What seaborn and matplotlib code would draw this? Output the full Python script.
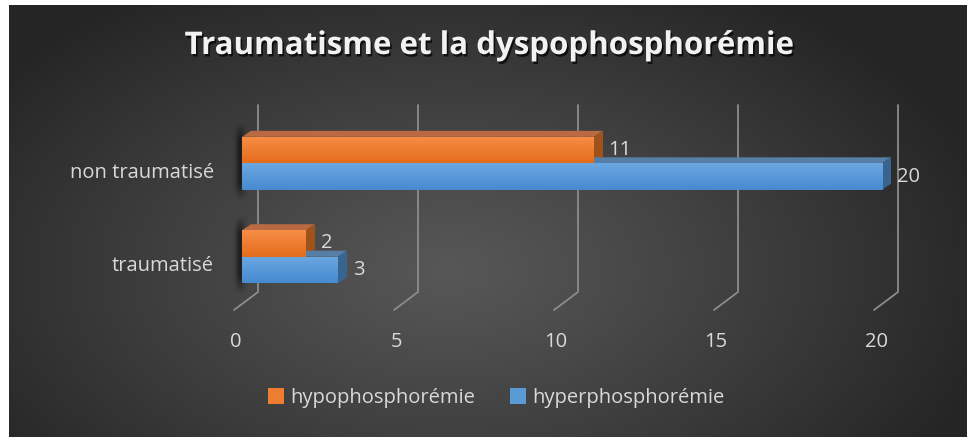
import numpy as np
import pandas as pd
import matplotlib
matplotlib.use("Agg")
import matplotlib.pyplot as plt
import matplotlib.patheffects as pe
import matplotlib.transforms as mtransforms
from matplotlib.patches import Polygon, Patch
import seaborn as sns

# ---- data ----
categories = ["non traumatisé", "traumatisé"]
series_names = ["hypophosphorémie", "hyperphosphorémie"]
hypo_values = [11, 2]
hyper_values = [20, 3]
x_ticks = [0, 5, 10, 15, 20]
title = "Traumatisme et la dyspophosphorémie"

df = pd.DataFrame({
    "cat": categories * 2,
    "serie": [series_names[0]] * len(categories) + [series_names[1]] * len(categories),
    "val": hypo_values + hyper_values,
})

# ---- style ----
W, H, DPI = 968, 437, 100
ORANGE, BLUE = "#ef7d2f", "#5b9bd5"
FACE_GRAD = {ORANGE: ("#f78d47", "#e56d1b"), BLUE: ("#6ba8e2", "#478ad0")}
TOP_COL = {ORANGE: "#b96a42", BLUE: "#567ea6"}
SIDE_COL = {ORANGE: "#a0521b", BLUE: "#38658f"}
TEXT_COL = "#d9d9d9"
GRID_COL = "#8c8c8c"
FS = 14.5

sns.set_theme(style="white")
plt.rcParams["font.family"] = ["Open Sans", "DejaVu Sans"]

fig = plt.figure(figsize=(W / DPI, H / DPI), dpi=DPI, facecolor="white")

# ---- dark radial-gradient chart area ----
bg = fig.add_axes([0, 0, 1, 1], zorder=0)
bg.set_xlim(0, W)
bg.set_ylim(H, 0)
bg.axis("off")
x0b, x1b, y0b, y1b = 9, 967, 5, 437
yy, xx = np.mgrid[y0b:y1b, x0b:x1b]
r = np.sqrt(((xx - 450) / 560.0) ** 2 + ((yy - 270) / 330.0) ** 2)
t = np.clip(r, 0, 1) ** 1.1
lum = (0x57 * (1 - t) + 0x25 * t) / 255.0
bg.imshow(np.dstack([lum, lum, lum]), extent=(x0b, x1b, y1b, y0b),
          interpolation="bilinear", aspect="auto")

# ---- main axes: pixel geometry of the plot area ----
PX_ZERO = 242.0      # front face of the value 0
PX_PER_UNIT = 32.0
PX_CAT0 = 163.3      # centre of the first category
PX_PITCH = 93.4      # distance between categories
ax_left_px, ax_right_px = 222, 950
ax_top_px, ax_bot_px = 90, 330
ax = fig.add_axes([ax_left_px / W, 1 - ax_bot_px / H,
                   (ax_right_px - ax_left_px) / W, (ax_bot_px - ax_top_px) / H], zorder=1)
ax.set_facecolor("none")

sns.barplot(data=df, x="val", y="cat", hue="serie", orient="h",
            order=categories, hue_order=series_names,
            palette=[ORANGE, BLUE], saturation=1, width=0.567,
            linewidth=0, legend=False, ax=ax, zorder=3)

ax.set_xlim((ax_left_px - PX_ZERO) / PX_PER_UNIT, (ax_right_px - PX_ZERO) / PX_PER_UNIT)
ax.set_ylim((ax_bot_px - PX_CAT0) / PX_PITCH, (ax_top_px - PX_CAT0) / PX_PITCH)
ux = 1.0 / PX_PER_UNIT   # data units per pixel (x)
uy = 1.0 / PX_PITCH      # data units per pixel (y, downward)

for s in ax.spines.values():
    s.set_visible(False)
ax.set_xlabel("")
ax.set_ylabel("")

# ---- back-wall gridlines with floor perspective ----
wall_dx = 16 * ux
grid_top = (105 - PX_CAT0) * uy
grid_bot = (292 - PX_CAT0) * uy
for v in x_ticks:
    gx = v + wall_dx
    ax.plot([gx, gx, gx - 24 * ux], [grid_top, grid_bot, grid_bot + 18 * uy],
            color=GRID_COL, lw=1.3, zorder=1, solid_joinstyle="miter")

# ---- soft shadow behind bar bases ----
sh_w = 30
prof_x = np.exp(-((np.arange(sh_w) - 17) / 4.5) ** 2)
for i in range(len(categories)):
    top = i - 0.567 / 2 - 15 * uy
    bot = i + 0.567 / 2 + 11 * uy
    n = 80
    fy = np.linspace(0, 1, n)
    prof_y = np.clip(np.minimum(fy, 1 - fy) / 0.22, 0, 1)
    alpha = 0.55 * np.outer(prof_y, prof_x)
    rgba = np.zeros((n, sh_w, 4))
    rgba[..., 3] = alpha
    ax.imshow(rgba, extent=(-19 * ux, (sh_w - 19) * ux, bot, top),
              aspect="auto", zorder=1.5, interpolation="bilinear")

# ---- 3D faces and gradient fronts for each bar ----
dx, dy = 9 * ux, 6 * uy
for cont, key in zip(ax.containers, [ORANGE, BLUE]):
    for bar in cont.patches:
        bx0, bw = bar.get_x(), bar.get_width()
        btop, bh = bar.get_y(), bar.get_height()
        bx1, bbot = bx0 + bw, btop + bh
        ax.add_patch(Polygon([(bx0, btop), (bx1, btop), (bx1 + dx, btop - dy), (bx0 + dx, btop - dy)],
                             closed=True, fc=TOP_COL[key], ec="none", zorder=2))
        ax.add_patch(Polygon([(bx1, btop), (bx1 + dx, btop - dy), (bx1 + dx, bbot - dy), (bx1, bbot)],
                             closed=True, fc=SIDE_COL[key], ec="none", zorder=2))
        c_top, c_bot = (np.array(matplotlib.colors.to_rgb(c)) for c in FACE_GRAD[key])
        g = np.linspace(0, 1, 32)[:, None, None]
        grad = c_top * (1 - g) + c_bot * g
        im = ax.imshow(np.repeat(grad, 2, axis=1), extent=(bx0, bx1, bbot, btop),
                       aspect="auto", zorder=3.5, interpolation="bilinear")
        im.set_clip_path(bar)

# ---- value labels ----
for cont in ax.containers:
    ax.bar_label(cont, labels=[f"{int(b.get_width())}" for b in cont.patches],
                 padding=10.5, color=TEXT_COL, fontsize=FS, zorder=5)

# ---- tick labels ----
ax.set_xticks(x_ticks)
ax.set_xticklabels([str(v) for v in x_ticks])
ax.set_yticks(range(len(categories)))
ax.set_yticklabels(categories)
ax.tick_params(axis="x", length=0, pad=1.5, labelsize=FS, labelcolor=TEXT_COL)
ax.tick_params(axis="y", length=0, pad=6, labelsize=FS, labelcolor=TEXT_COL)
for lab in ax.get_xticklabels():
    lab.set_transform(lab.get_transform() + mtransforms.ScaledTranslation(-0.06, 0, fig.dpi_scale_trans))
for lab in ax.get_yticklabels():
    lab.set_transform(lab.get_transform() + mtransforms.ScaledTranslation(0, -0.07, fig.dpi_scale_trans))
ax.grid(False)

# ---- title ----
fig.text(490 / W, 1 - 46 / H, title, ha="center", va="center",
         fontsize=22.5, fontweight="bold", color="#f2f2f2",
         path_effects=[pe.SimplePatchShadow(offset=(1.2, -1.8), shadow_rgbFace="black", alpha=0.7),
                       pe.Normal()])

# ---- legend ----
handles = [Patch(facecolor=ORANGE, edgecolor="none"), Patch(facecolor=BLUE, edgecolor="none")]
fig.legend(handles, series_names, loc="center", bbox_to_anchor=(496 / W, 1 - 398 / H),
           ncol=2, frameon=False, fontsize=FS, labelcolor=TEXT_COL,
           handlelength=0.8, handleheight=0.8, handletextpad=0.3, columnspacing=1.75)

fig.savefig("out.png", dpi=DPI, facecolor="white")
